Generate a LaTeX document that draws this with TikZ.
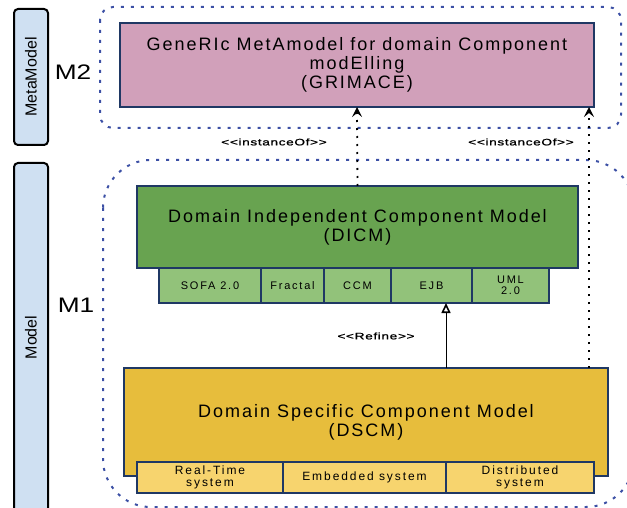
\documentclass[tikz,border=0pt]{standalone}
\usepackage{fontspec}
\setmainfont{Liberation Sans}
\newfontfamily\boxfont[LetterSpace=11,Ligatures=TeXOff]{Liberation Sans}
\newfontfamily\cellfont[LetterSpace=16,Ligatures=TeXOff]{Liberation Sans}
\newfontfamily\levelfont[FakeStretch=1.25]{Liberation Sans}
\newfontfamily\tagfont[FakeStretch=1.45,LetterSpace=6,FakeBold=1,Ligatures=TeXOff]{Liberation Sans}
\usetikzlibrary{shapes, arrows.meta, calc, positioning}

\definecolor{metapink}{RGB}{209,160,186}
\definecolor{dicmgreen}{RGB}{104,163,80}
\definecolor{cellgreen}{RGB}{146,194,122}
\definecolor{dscmgold}{RGB}{231,189,60}
\definecolor{cellgold}{RGB}{247,212,110}
\definecolor{barblue}{RGB}{207,224,242}
\definecolor{frameblue}{RGB}{60,80,165}
\definecolor{edgenavy}{RGB}{31,56,100}

\begin{document}
\begin{tikzpicture}[x=1pt, y=-1pt, node distance=0pt]
	\tikzstyle{layer} = [draw, line width=2pt, fill=barblue, rounded corners=4pt, rotate=90, minimum height=34pt, font=\fontsize{16}{16}\selectfont]
	\tikzstyle{level} = [font=\levelfont\fontsize{21}{21}\selectfont]
	\tikzstyle{frame} = [draw=frameblue, line width=2pt, dash pattern=on 3pt off 7pt]
	\tikzstyle{model} = [draw=edgenavy, line width=1.5pt, outer sep=0pt, align=center, anchor=north west, font=\boxfont\fontsize{18}{19}\selectfont]
	\tikzstyle{cell} = [draw=edgenavy, line width=1.5pt, outer sep=0pt, inner sep=0pt, align=center, font=\cellfont\fontsize{11}{11}\selectfont]
	\tikzstyle{tag} = [inner sep=0pt, font=\tagfont\fontsize{9.5}{9.5}\selectfont]
	\tikzstyle{instance} = [-{Stealth[length=10pt, width=10pt, inset=4pt]}, line width=1.8pt, dash pattern=on 2pt off 6pt]
	\tikzstyle{refine} = [-{Triangle[open, length=10pt, width=9pt, line width=1.6pt]}, line width=1pt]

	\useasboundingbox (0,0) rectangle (627,508);

	% layers
	\draw[frame, rounded corners=13pt] (100,7) rectangle (621,128);
	\draw[frame, rounded corners=48pt] (103,160) rectangle (634,507);

	\node[layer, minimum width=136pt] (meta) at (31,77) {MetaModel};
	\node[layer, minimum width=349pt] (model) at (31,337.5) {Model};
	\node[level] (m2) at (73,72) {M2};
	\node[level] (m1) at (76,305) {M1};

	% models
	\node[model, fill=metapink, minimum width=474pt, minimum height=84pt] (grimace) at (120,23)
		{GeneRIc MetAmodel for domain Component\\modElling\\(GRIMACE)};
	\node[model, fill=dicmgreen, minimum width=441pt, minimum height=82pt] (dicm) at (137,186)
		{Domain Independent Component Model\\(DICM)};
	\node[model, fill=dscmgold, minimum width=484pt, minimum height=108pt] (dscm) at (124,368)
		{Domain Specific Component Model\\(DSCM)};

	\begin{scope}[every node/.style={cell, fill=cellgreen, minimum height=35pt}]
		\node[minimum width=102pt, anchor=north west] (sofa) at (159,268) {SOFA 2.0};
		\node[minimum width=63pt, right=of sofa] (fractal) {Fractal};
		\node[minimum width=67pt, right=of fractal] (ccm) {CCM};
		\node[minimum width=81pt, right=of ccm] (ejb) {EJB};
		\node[minimum width=77pt, right=of ejb] (uml) {UML\\2.0};
	\end{scope}

	\begin{scope}[every node/.style={cell, fill=cellgold, minimum height=31pt, font=\cellfont\fontsize{12}{12}\selectfont}]
		\node[minimum width=146pt, anchor=north west] (realtime) at (137,462) {Real-Time\\system};
		\node[minimum width=163pt, right=of realtime] (embedded) {Embedded system};
		\node[minimum width=148pt, right=of embedded] (distributed) {Distributed\\system};
	\end{scope}

	% relations
	\coordinate (itip) at ($(grimace.south east)+(-5,0)$);
	\coordinate (rtip) at ($(ejb.south)+(14.5,0)$);

	\path
		(dicm.north) edge[instance] (grimace.south)
		(dscm.north -| itip) edge[instance] (itip)
		(dscm.north -| rtip) edge[refine] (rtip)
	;

	\node[tag] (inst1) at (274,142) {<<instanceOf>>};
	\node[tag] (inst2) at (521,142) {<<instanceOf>>};
	\node[tag] (ref) at (376,336) {<<Refine>>};
\end{tikzpicture}
\end{document}
